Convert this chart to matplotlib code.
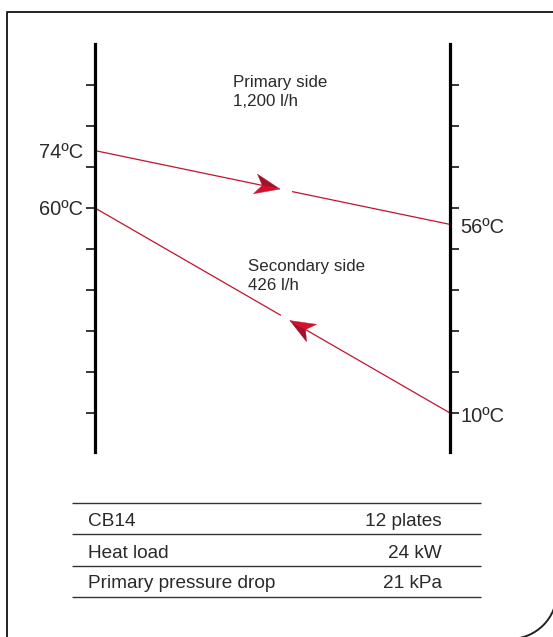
import numpy as np
import matplotlib
matplotlib.use('Agg')
import matplotlib.pyplot as plt
from matplotlib.patches import Polygon, Arc
from matplotlib.transforms import IdentityTransform

plt.rcParams['font.family'] = ['Liberation Sans', 'DejaVu Sans']

# ---- data ----
sides = [0, 1]                   # 0 = left scale, 1 = right scale
primary_temps = [74, 56]         # flows left -> right
secondary_temps = [10, 60]       # flows right -> left (right value first)
tick_temps = [10, 20, 30, 40, 50, 60, 70, 80, 90]
primary_text = ['Primary side', '1,200 l/h']
secondary_text = ['Secondary side', '426 l/h']
table_labels = ['CB14', 'Heat load', 'Primary pressure drop']
table_values = ['12 plates', '24 kW', '21 kPa']

LINE_RED = '#c0142f'
ARROW_DARK = '#a3102a'
ARROW_BRIGHT = '#d3112d'
TEXT = '#2a2a2a'

W, H = 553, 637


#
# draw one flow line with a gap and a two tone arrow head
#
def draw_flow(ax, xs, ys, t_tip, gap):
    trans = ax.transData
    p0 = trans.transform((xs[0], ys[0]))
    p1 = trans.transform((xs[1], ys[1]))
    d = p1 - p0
    L = np.hypot(d[0], d[1])
    u = d / L
    n = np.array([-u[1], u[0]])
    tip = p0 + u * L * t_tip
    resume = tip + u * gap
    ident = IdentityTransform()
    ax.plot([p0[0], tip[0] - u[0] * 12], [p0[1], tip[1] - u[1] * 12], color=LINE_RED, lw=0.9,
            transform=ident, clip_on=False, solid_capstyle='butt')
    ax.plot([resume[0], p1[0]], [resume[1], p1[1]], color=LINE_RED, lw=0.9,
            transform=ident, clip_on=False, solid_capstyle='butt')
    back = tip - u * 25
    notch = tip - u * 18
    left_wing = [tip, back + n * 10, notch]
    right_wing = [tip, notch, back - n * 10]
    ax.add_patch(Polygon(left_wing, closed=True, facecolor=ARROW_DARK, edgecolor=ARROW_DARK,
                         lw=0.3, transform=ident, clip_on=False, zorder=4))
    ax.add_patch(Polygon(right_wing, closed=True, facecolor=ARROW_BRIGHT, edgecolor=ARROW_BRIGHT,
                         lw=0.3, transform=ident, clip_on=False, zorder=4))


fig = plt.figure(figsize=(W / 100, H / 100), dpi=100)

# background axes in pixel units for frame, notes and table
bg = fig.add_axes([0, 0, 1, 1])
bg.set_xlim(0, W)
bg.set_ylim(H, 0)
bg.axis('off')

# outer frame, square top-left and rounded bottom-right
bg.plot([7, 7, W + 5], [H + 5, 12, 12], color='#222222', lw=1.4, clip_on=False, solid_capstyle='butt')
bg.add_patch(Arc((510, 592), 94, 94, theta1=0, theta2=90, color='#222222', lw=1.4))

# temperature diagram
ax = fig.add_axes([95 / W, 1 - 454 / H, 355 / W, 410 / H])
ax.set_xlim(0, 1)
ax.set_ylim(0, 100)
ax.patch.set_visible(False)
for s in ['top', 'bottom']:
    ax.spines[s].set_visible(False)
for s in ['left', 'right']:
    ax.spines[s].set_linewidth(2.3)
    ax.spines[s].set_color('black')
    ax.spines[s].set_bounds(0.5, 100)
ax.set_xticks([])
ax.set_yticks(tick_temps)
ax.tick_params(axis='y', left=True, right=True, direction='out', length=6.5, width=1.1,
               labelleft=False, labelright=False)
for tick in ax.yaxis.get_major_ticks():
    c = '#7a7a7a' if tick.get_loc() > 60 else 'black'
    tick.tick1line.set_color(c)
    tick.tick2line.set_color(c)

draw_flow(ax, sides, primary_temps, 0.521, 12.3)
draw_flow(ax, sides[::-1], secondary_temps, 0.451, 10.4)

# end temperatures
ax.annotate('%dºC' % primary_temps[0], (sides[0], primary_temps[0]), xytext=(-12, -1.5),
            textcoords='offset pixels', ha='right', va='center', fontsize=14.4, color=TEXT)
ax.annotate('%dºC' % secondary_temps[1], (sides[0], secondary_temps[1]), xytext=(-12, -1.5),
            textcoords='offset pixels', ha='right', va='center', fontsize=14.4, color=TEXT)
ax.annotate('%dºC' % primary_temps[1], (sides[1], primary_temps[1]), xytext=(10, -3),
            textcoords='offset pixels', ha='left', va='center', fontsize=14.4, color=TEXT)
ax.annotate('%dºC' % secondary_temps[0], (sides[1], secondary_temps[0]), xytext=(11, -3),
            textcoords='offset pixels', ha='left', va='center', fontsize=14.4, color=TEXT)

# side notes
bg.text(233, 87, primary_text[0], fontsize=12.2, va='baseline', color=TEXT)
bg.text(233, 105.5, primary_text[1], fontsize=12.2, va='baseline', color=TEXT)
bg.text(248, 271.5, secondary_text[0], fontsize=12.2, va='baseline', color=TEXT)
bg.text(248, 290, secondary_text[1], fontsize=12.2, va='baseline', color=TEXT)

# table
row_edges = [503, 534, 566, 597]
bg.hlines(row_edges, 72, 481, color='#333333', lw=1.0)
for i in range(len(table_labels)):
    yb = row_edges[i + 1] - 8.5
    bg.text(88, yb, table_labels[i], fontsize=13.7, va='baseline', ha='left', color=TEXT)
    bg.text(442, yb, table_values[i], fontsize=13.7, va='baseline', ha='right', color=TEXT)

fig.savefig('out.png', dpi=100)
